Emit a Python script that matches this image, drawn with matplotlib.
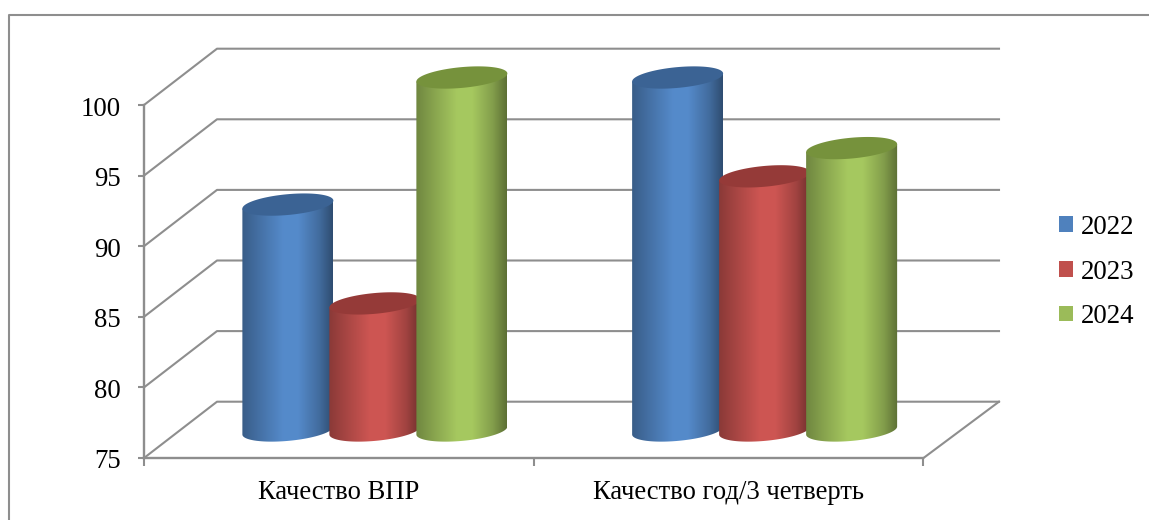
import numpy as np
import matplotlib.pyplot as plt
from matplotlib.lines import Line2D
from matplotlib.patches import Patch
from matplotlib.path import Path
from matplotlib.colors import LinearSegmentedColormap, to_rgb
from matplotlib.transforms import ScaledTranslation

plt.rcParams['font.family'] = ['Liberation Serif', 'DejaVu Serif']

# ------------------ DATA -----------------------------------------
categories = ['Качество ВПР', 'Качество год/3 четверть']
years = ['2022', '2023', '2024']
values_2022 = [91, 100]
values_2023 = [84, 93]
values_2024 = [100, 95]
y_ticks = [75, 80, 85, 90, 95, 100]

colors = ['#4f81bd', '#c0504d', '#9bbb59']
top_colors = ['#3b6394', '#953a38', '#76923c']
# -----------------------------------------------------------------

W, H = 1149, 520
GRAY = '#8e8e8e'

fig = plt.figure(figsize=(W / 100, H / 100), dpi=100)
# axes = front plane of the 3d box, pixels from the reference
ax = fig.add_axes([144 / W, 1 - 458 / H, (923.5 - 144) / W, (458 - 105) / H])
ax.set_xlim(-0.5, 1.5)
ax.set_ylim(75, 100)
ax.patch.set_alpha(0)

px_x = 2 / (923.5 - 144)     # data units per pixel
px_y = 25 / (458 - 105)

# back wall offset and cylinder offset
wall_dx, wall_dy = 73 * px_x, 56.3 * px_y
bar_dx, bar_dy = 36 * px_x, 27.5 * px_y
step = 87 * px_x
rx = 45.5 * px_x
ry = 10.4 * px_y
skew = 4 * px_y


def cylinder(cx, value, color, top_color, z):
    t = np.linspace(np.pi, 2 * np.pi, 60)
    bx = cx + rx * np.cos(t)
    by = 75 + bar_dy + ry * np.sin(t) + skew * np.cos(t)
    top = value + bar_dy
    xs = np.r_[bx, cx + rx, cx - rx, bx[0]]
    ys = np.r_[by, top + skew, top - skew, by[0]]

    # shading across the cylinder
    rgb = np.array(to_rgb(color))
    cmap = LinearSegmentedColormap.from_list('c', [
        (0.0, rgb * 0.72), (0.2, rgb * 0.88), (0.45, np.minimum(rgb * 1.07, 1)),
        (0.62, np.minimum(rgb * 1.07, 1)), (0.85, rgb * 0.84), (1.0, rgb * 0.6)])
    im = ax.imshow(np.linspace(0, 1, 128).reshape(1, -1), cmap=cmap, aspect='auto',
                   extent=(cx - rx, cx + rx, 70, 110), interpolation='bilinear', zorder=z)
    im.set_clip_box(fig.bbox)
    im.set_clip_path(Path(np.c_[xs, ys]), ax.transData)

    t = np.linspace(0, 2 * np.pi, 100)
    ex = cx + rx * np.cos(t)
    ey = top + ry * np.sin(t) + skew * np.cos(t)
    ax.fill(ex, ey, color=top_color, lw=0, zorder=z + 0.5, clip_on=False)


# back wall lines and the diagonals
for v in y_ticks:
    ax.plot([-0.5, -0.5 + wall_dx, 1.5 + wall_dx + 2.5 * px_x], [v, v + wall_dy, v + wall_dy],
            color=GRAY, lw=1.5, clip_on=False, zorder=1)
ax.plot([1.5, 1.5 + wall_dx + 2.5 * px_x], [75, 75 + wall_dy], color=GRAY, lw=1.5,
        clip_on=False, zorder=1)

series = [values_2022, values_2023, values_2024]
z = 3
for i in range(len(categories)):
    for j in range(len(series)):
        cx = i + bar_dx + (j - 1) * step
        cylinder(cx, series[j][i], colors[j], top_colors[j], z)
        z += 1

ax.set_xlim(-0.5, 1.5)
ax.set_ylim(75, 100)

# axes
for s in ['top', 'right']:
    ax.spines[s].set_visible(False)
for s in ['left', 'bottom']:
    ax.spines[s].set_color(GRAY)
    ax.spines[s].set_linewidth(1.7)

ax.set_yticks(y_ticks)
ax.tick_params(axis='y', length=4.5, width=1.5, color=GRAY, pad=12.5, labelsize=19.3)
# labels sit a bit below their ticks in the reference
shift = ScaledTranslation(0, -1 / 100, fig.dpi_scale_trans)
for label in ax.get_yticklabels():
    label.set_transform(label.get_transform() + shift)

ax.set_xticks(range(len(categories)))
ax.set_xticklabels(categories)
ax.set_xticks([-0.5, 0.5, 1.5], minor=True)
ax.tick_params(axis='x', which='major', length=0, pad=16, labelsize=19.2)
ax.tick_params(axis='x', which='minor', length=5.5, width=1.5, color=GRAY)

# outer chart frame, runs off the picture on the right and bottom
fig.add_artist(Line2D([8.5 / W, 8.5 / W, 1], [0, 1 - 14.5 / H, 1 - 14.5 / H],
                      color=GRAY, lw=1.5, transform=fig.transFigure))

handles = [Patch(facecolor=c, edgecolor='none') for c in colors]
fig.legend(handles, years, loc='center left', bbox_to_anchor=(1035 / W, 1 - 272 / H),
           frameon=False, fontsize=19.4, handlelength=0.5, handleheight=0.5,
           handletextpad=0.3, labelspacing=0.735)

fig.savefig('out.png', dpi=100)
